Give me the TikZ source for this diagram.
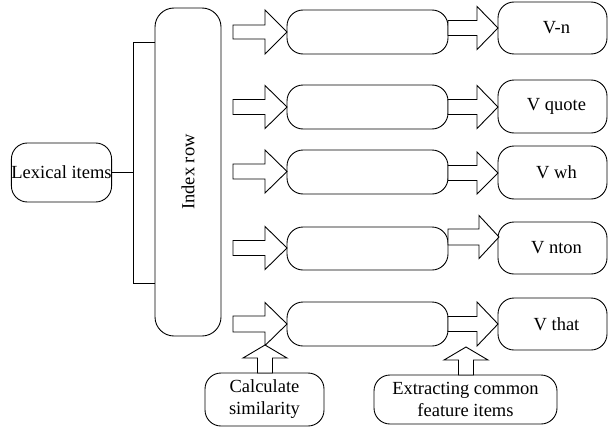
\documentclass[tikz,border=0pt]{standalone}
\usepackage{fontspec}
\setmainfont{Liberation Serif}
\newcommand\harrow[6]{% x0, xh, xt, y, shaft half, head half
  \draw[barrow] ({#1},{#4-#5}) -- ({#2},{#4-#5}) -- ({#2},{#4-#6}) -- ({#3},{#4})
    -- ({#2},{#4+#6}) -- ({#2},{#4+#5}) -- ({#1},{#4+#5}) -- cycle;}
\newcommand\varrow[6]{% x, y0, yh, yt, shaft half, head half
  \draw[barrow] ({#1-#5},{#2}) -- ({#1-#5},{#3}) -- ({#1-#6},{#3}) -- ({#1},{#4})
    -- ({#1+#6},{#3}) -- ({#1+#5},{#3}) -- ({#1+#5},{#2}) -- cycle;}
\begin{document}
\begin{tikzpicture}[x=1pt,y=-1pt,line width=0.9pt,
  rbox/.style={draw, rounded corners=16pt, inner sep=0pt,
    font=\fontsize{18.5}{22}\selectfont, align=center},
  midbox/.style={rbox, minimum width=161pt, minimum height=44pt},
  vbox/.style={rbox, minimum width=109pt, minimum height=52pt},
  barrow/.style={draw, fill=white, line join=miter}]
\useasboundingbox (0,0) rectangle (609,428);
% left part
\node[rbox, minimum width=99pt, minimum height=59pt] (lex) at (61.5,172.5) {Lexical items};
\node[rbox, rounded corners=19pt, minimum width=66pt, minimum height=328pt] (idx) at (188,172) {\rotatebox{90}{Index row}};
\coordinate (bt) at (133,42);
\coordinate (bb) at (133,283);
\coordinate (bm) at (133,172.5);
\draw (lex.east) -- (bm);
\draw (bm) -- (bt) -- (idx.west |- bt);
\draw (bm) -- (bb) -- (idx.west |- bb);
% middle boxes
\node[midbox] (b1) at (367.5,32) {};
\node[midbox] (b2) at (367.5,107) {};
\node[midbox] (b3) at (367.5,172) {};
\node[midbox, minimum height=43pt] (b4) at (367.5,248.5) {};
\node[midbox] (b5) at (367.5,324) {};
% result boxes
\node[vbox] (v1) at (552.5,28) {\hspace*{8pt}V-n};
\node[vbox, minimum height=53pt] (v2) at (552.5,106.5) {\hspace*{8pt}V quote};
\node[vbox, minimum height=53pt] (v3) at (552.5,172.5) {\hspace*{8pt}V wh};
\node[vbox] (v4) at (552.5,248) {\hspace*{8pt}V nton};
\node[vbox] (v5) at (552.5,324) {\hspace*{8pt}V that};
% bottom boxes
\node[rbox, minimum width=119pt, minimum height=53pt] (calc) at (264.5,399.5) {Calculate\\similarity};
\node[rbox, minimum width=183pt, minimum height=49pt] (ext) at (465.5,399.5) {Extracting common\\feature items};
% arrows into middle boxes
\harrow{233}{265}{287}{32}{7}{22}
\harrow{233}{265}{287}{107}{7.5}{21.5}
\harrow{233}{265}{287}{171.5}{7.5}{21.5}
\harrow{233}{265}{287}{248}{7.5}{21.5}
\harrow{233}{265}{287}{324}{8}{21.5}
% arrows into result boxes
\harrow{448}{477}{498}{28}{7.5}{21.5}
\harrow{448}{477}{498}{107}{7.5}{21.5}
\harrow{448}{477}{498}{173}{7.5}{21}
\harrow{448}{479}{499}{237}{8}{21.5}
\harrow{448}{477}{498}{324}{7.5}{22}
% upward arrows
\varrow{265}{373}{358}{345}{7.5}{22}
\varrow{466}{375}{360}{347}{7.5}{22}
\end{tikzpicture}
\end{document}
